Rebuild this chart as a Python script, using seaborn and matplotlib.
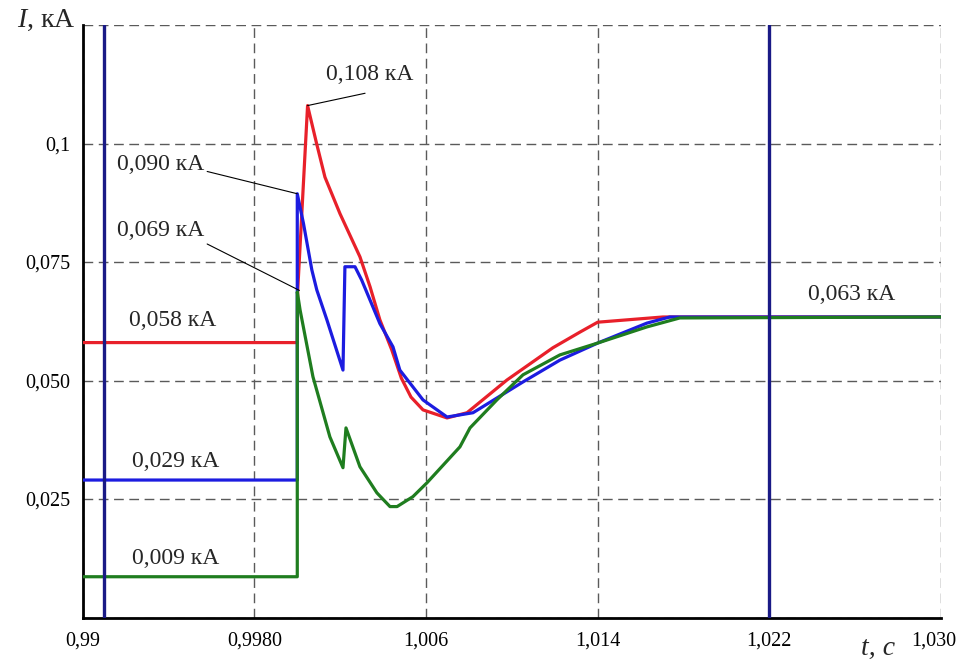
import matplotlib
matplotlib.use("Agg")
import matplotlib.pyplot as plt
import matplotlib.transforms as mtransforms
import seaborn as sns
import pandas as pd
import numpy as np

# ---------------- data ----------------
t_red = [0.990, 1.0000, 1.00002, 1.00048, 1.00090, 1.00129, 1.00199, 1.00292, 1.00339,
         1.00385, 1.00440, 1.00485, 1.00530, 1.00586, 1.00698, 1.00791, 1.00977, 1.01191,
         1.01317, 1.0140, 1.01704, 1.030]
i_red = [0.058, 0.058, 0.069, 0.108, 0.1000, 0.0929, 0.0852, 0.0761, 0.0698,
         0.0628, 0.0565, 0.0505, 0.0465, 0.0438, 0.0421, 0.0432, 0.0501, 0.0569,
         0.0602, 0.0623, 0.0634, 0.0634]

t_blue = [0.990, 1.0000, 1.0000, 1.00029, 1.00068, 1.00091, 1.00138, 1.00213, 1.00222,
          1.00269, 1.00300, 1.00385, 1.00446, 1.00478, 1.00586, 1.00698, 1.00819, 1.01052,
          1.01224, 1.0140, 1.01629, 1.01736, 1.030]
i_blue = [0.029, 0.029, 0.0894, 0.0831, 0.0733, 0.0691, 0.0628, 0.0522, 0.0740,
          0.0740, 0.0712, 0.0620, 0.0571, 0.0522, 0.0459, 0.0423, 0.0432, 0.0497,
          0.0543, 0.0579, 0.0621, 0.0634, 0.0634]

t_green = [0.990, 1.0000, 1.0000, 1.00013, 1.00073, 1.00152, 1.00213, 1.00227, 1.00292,
           1.00371, 1.00432, 1.00465, 1.00539, 1.00604, 1.00758, 1.00805, 1.00930, 1.01052,
           1.01224, 1.0140, 1.01629, 1.01783, 1.030]
i_green = [0.0086, 0.0086, 0.0687, 0.0649, 0.0508, 0.0381, 0.0316, 0.0400, 0.0318,
           0.0263, 0.0234, 0.0234, 0.0255, 0.0284, 0.0360, 0.0400, 0.0459, 0.0512,
           0.0554, 0.0579, 0.0613, 0.0632, 0.0634]

markers_t = [0.991, 1.022]

x_ticks = [0.990, 0.998, 1.006, 1.014, 1.022, 1.030]
x_labels = ["0,99", "0,9980", "1,006", "1,014", "1,022", "1,030"]
y_ticks = [0.0, 0.025, 0.050, 0.075, 0.100, 0.125]
y_labels = ["", "0,025", "0,050", "0,075", "0,1", ""]

ann_text = ["0,108 кА", "0,090 кА", "0,069 кА", "0,058 кА", "0,029 кА", "0,009 кА", "0,063 кА"]

# ---------------- style ----------------
sns.set_theme(style="white")
plt.rcParams["font.family"] = ["Liberation Serif", "DejaVu Serif"]
plt.rcParams["mathtext.fontset"] = "custom"
plt.rcParams["mathtext.rm"] = "Liberation Serif"
plt.rcParams["mathtext.it"] = "Liberation Serif:italic"

red = "#e8202a"
blue = "#1c1ce0"
green = "#1f7d1f"
navy = "#1a1a86"
grid_c = "#5a5a5a"

df = pd.concat([
    pd.DataFrame({"t": t_red, "I": i_red, "s": "red"}),
    pd.DataFrame({"t": t_blue, "I": i_blue, "s": "blue"}),
    pd.DataFrame({"t": t_green, "I": i_green, "s": "green"}),
], ignore_index=True)

fig = plt.figure(figsize=(9.6, 6.6), dpi=100)
ax = fig.add_axes([82.7 / 960, 1 - 617.5 / 660, (941 - 82.7) / 960, (617.5 - 25) / 660])

for tv in markers_t:
    ax.axvline(tv, color=navy, lw=2.4, zorder=4)

sns.lineplot(data=df, x="t", y="I", hue="s", palette={"red": red, "blue": blue, "green": green},
             hue_order=["red", "blue", "green"], estimator=None, sort=False, lw=2.3,
             legend=False, ax=ax, zorder=3)
for ln in ax.get_lines()[len(markers_t):]:
    ln.set_solid_joinstyle("round")

ax.set_xlim(0.990, 1.030)
ax.set_ylim(0.0, 0.125)
ax.set_xticks(x_ticks)
ax.set_xticklabels(x_labels)
ax.set_yticks(y_ticks)
ax.set_yticklabels(y_labels)
ax.set_xticks(np.arange(0.994, 1.030, 0.008), minor=True)
ax.set_yticks(np.arange(0.0125, 0.125, 0.025), minor=True)
ax.tick_params(axis="both", which="major", direction="in", length=6, width=1.2,
               labelsize=14.5, colors="black")
ax.tick_params(axis="both", which="minor", direction="in", length=5, width=1.0)
ax.tick_params(axis="x", pad=10)
ax.tick_params(axis="y", pad=9)
ax.grid(True, which="major", color=grid_c, lw=1.0, linestyle=(0, (7, 4)))
ax.set_axisbelow(True)

# keep the last x label inside the figure
last = ax.get_xticklabels()[-1]
last.set_transform(last.get_transform() + mtransforms.ScaledTranslation(-7 / 100, 0, fig.dpi_scale_trans))

for side in ["top", "right"]:
    ax.spines[side].set_visible(False)
for side in ["left", "bottom"]:
    ax.spines[side].set_color("black")
    ax.spines[side].set_linewidth(2.0)
ax.set_xlabel("")
ax.set_ylabel("")

# ---------------- annotations ----------------
fs = 17
arrow = dict(arrowstyle="-", color="black", lw=0.8, shrinkA=0, shrinkB=0)
ax.text(1.00339, 0.1146, ann_text[0], fontsize=fs, ha="center", va="center")
ax.annotate("", xy=(1.00048, 0.108), xytext=(1.00316, 0.1106), arrowprops=arrow)
ax.text(0.99365, 0.0956, ann_text[1], fontsize=fs, ha="center", va="center")
ax.annotate("", xy=(1.0000, 0.0894), xytext=(0.99580, 0.0941), arrowprops=arrow)
ax.text(0.99365, 0.0817, ann_text[2], fontsize=fs, ha="center", va="center")
ax.annotate("", xy=(1.0001, 0.0690), xytext=(0.99580, 0.0788), arrowprops=arrow)
ax.text(0.99418, 0.0627, ann_text[3], fontsize=fs, ha="center", va="center")
ax.text(0.99431, 0.0329, ann_text[4], fontsize=fs, ha="center", va="center")
ax.text(0.99431, 0.0124, ann_text[5], fontsize=fs, ha="center", va="center")
ax.text(1.02584, 0.0682, ann_text[6], fontsize=fs, ha="center", va="center")

fig.text(76 / 960, 1 - 20 / 660, r"$I$, кА", fontsize=20, ha="right", va="center")
fig.text(878 / 960, 1 - 648 / 660, "t, с", fontsize=20, style="italic", ha="center", va="center")

fig.savefig("out.png", dpi=100, facecolor="white")
